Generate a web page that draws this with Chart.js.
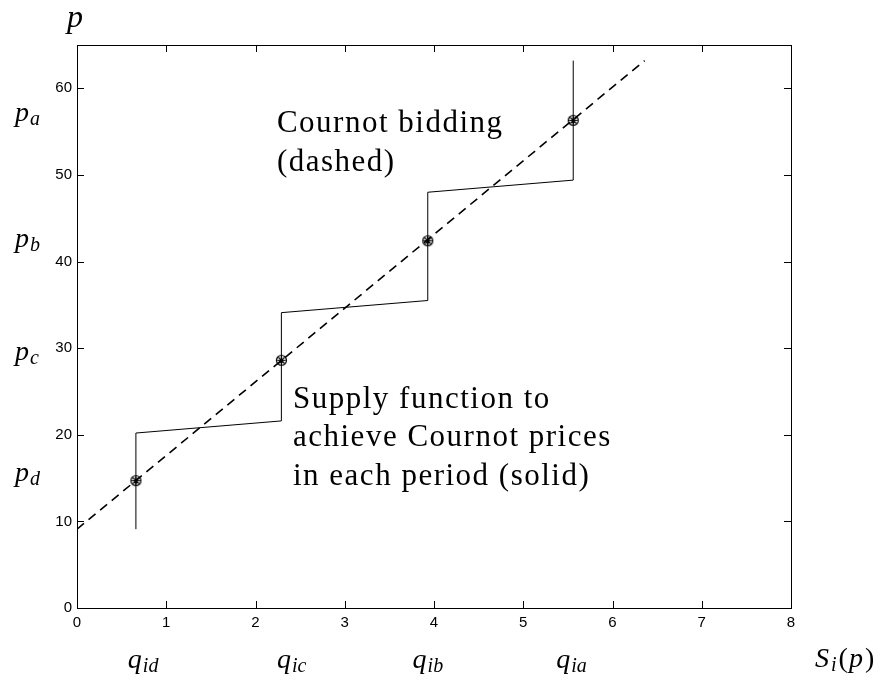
<!DOCTYPE html>
<html>
<head>
<meta charset="utf-8">
<script src="https://cdn.jsdelivr.net/npm/chart.js@4.4.1/dist/chart.umd.min.js"></script>
<style>
  html, body { margin: 0; padding: 0; background: #fff; }
  #wrap { width: 886px; height: 683px; }
</style>
</head>
<body>
<div id="wrap"><canvas id="c" width="886" height="683"></canvas></div>
<script>
// Cournot bidding line (dashed) – end points
const cournotLineQ = [0, 6.36];
const cournotLineP = [9.1, 63.2];

// Cournot price/quantity pairs in each period (marked points)
const cournotQ = [0.66, 2.29, 3.93, 5.56];
const cournotP = [14.7, 28.6, 42.4, 56.3];

// Step supply function achieving Cournot prices (solid)
const supplyQ = [0.66, 0.66, 2.29, 2.29, 3.93, 3.93, 5.56, 5.56];
const supplyP = [9.1, 20.2, 21.6, 34.1, 35.5, 48.0, 49.4, 63.2];

// Axis ticks
const xTicks = [0, 1, 2, 3, 4, 5, 6, 7, 8];
const yTicks = [0, 10, 20, 30, 40, 50, 60];

// Price and quantity symbols along the axes
const priceSubs = ['a', 'b', 'c', 'd'];
const priceLabelP = [56.6, 42.0, 29.0, 15.0];
const quantitySubs = ['id', 'ic', 'ib', 'ia'];
const quantityLabelQ = [0.57, 2.24, 3.76, 5.37];

// Annotations
const cournotNote = ['Cournot bidding', '(dashed)'];
const supplyNote = ['Supply function to', 'achieve Cournot prices', 'in each period (solid)'];

const SERIF = '"Liberation Serif", "DejaVu Serif", serif';
const SANS = '"Liberation Sans", Arial, sans-serif';

// circle + asterisk marker
function makeMarker() {
  const m = document.createElement('canvas');
  m.width = 13; m.height = 13;
  const g = m.getContext('2d');
  g.strokeStyle = '#000';
  g.lineWidth = 1.2;
  const c = 6.5, r = 5, s = 4.3, d = s * Math.SQRT1_2;
  g.beginPath(); g.arc(c, c, r, 0, Math.PI * 2); g.stroke();
  g.beginPath();
  g.moveTo(c - s, c); g.lineTo(c + s, c);
  g.moveTo(c, c - s); g.lineTo(c, c + s);
  g.moveTo(c - d, c - d); g.lineTo(c + d, c + d);
  g.moveTo(c - d, c + d); g.lineTo(c + d, c - d);
  g.stroke();
  return m;
}

const zip = (xs, ys) => xs.map((x, i) => ({ x, y: ys[i] }));

function subLabel(ctx, x, y, main, sub, size, subSize, drop) {
  ctx.font = `italic ${size}px ${SERIF}`;
  ctx.fillText(main, x, y);
  const w = ctx.measureText(main).width;
  ctx.font = `italic ${subSize}px ${SERIF}`;
  ctx.fillText(sub, x + w + 1, y + drop);
  return x + w + 1 + ctx.measureText(sub).width;
}

const framePlugin = {
  id: 'frameAndText',
  afterDraw(chart) {
    const { ctx, chartArea: a, scales } = chart;
    const xs = scales.x, ys = scales.y;
    ctx.save();
    ctx.strokeStyle = '#000';
    ctx.lineWidth = 1;
    // frame
    ctx.strokeRect(a.left + 0.5, a.top + 0.5, a.right - a.left, a.bottom - a.top);
    // inward ticks on all four sides
    const tl = 7;
    ctx.beginPath();
    xTicks.forEach(v => {
      const px = Math.round(xs.getPixelForValue(v)) + 0.5;
      ctx.moveTo(px, a.bottom); ctx.lineTo(px, a.bottom - tl);
      ctx.moveTo(px, a.top); ctx.lineTo(px, a.top + tl);
    });
    yTicks.forEach(v => {
      const py = Math.round(ys.getPixelForValue(v)) + 0.5;
      ctx.moveTo(a.left, py); ctx.lineTo(a.left + tl, py);
      ctx.moveTo(a.right, py); ctx.lineTo(a.right - tl, py);
    });
    ctx.stroke();

    ctx.fillStyle = '#000';
    ctx.textAlign = 'left';
    ctx.textBaseline = 'alphabetic';

    // axis symbols
    ctx.font = `italic 32px ${SERIF}`;
    ctx.fillText('p', 67, 27);

    priceSubs.forEach((s, i) => {
      const py = ys.getPixelForValue(priceLabelP[i]) + 3;
      subLabel(ctx, 15, py, 'p', s, 28, 20, 4);
    });
    quantitySubs.forEach((s, i) => {
      const px = xs.getPixelForValue(quantityLabelQ[i]);
      subLabel(ctx, px, 668, 'q', s, 28, 20, 4);
    });
    ctx.letterSpacing = '1px';
    let sx = subLabel(ctx, 815, 667, 'S', 'i', 28, 20, 4);
    ctx.font = `28px ${SERIF}`;
    ctx.fillText('(', sx + 1, 667);
    sx += 1 + ctx.measureText('(').width;
    ctx.font = `italic 28px ${SERIF}`;
    ctx.fillText('p', sx, 667);
    sx += ctx.measureText('p').width + 1;
    ctx.font = `28px ${SERIF}`;
    ctx.fillText(')', sx, 667);

    // annotations
    ctx.font = `31px ${SERIF}`;
    ctx.letterSpacing = '1.5px';
    const lh = 38.5;
    cournotNote.forEach((t, i) => {
      ctx.fillText(t, xs.getPixelForValue(2.24), ys.getPixelForValue(54.9) + i * lh);
    });
    supplyNote.forEach((t, i) => {
      ctx.fillText(t, xs.getPixelForValue(2.42), ys.getPixelForValue(23.1) + i * lh);
    });
    ctx.restore();
  }
};

new Chart(document.getElementById('c'), {
  type: 'scatter',
  data: {
    datasets: [
      {
        label: 'Cournot bidding',
        data: zip(cournotLineQ, cournotLineP),
        showLine: true,
        borderColor: '#000',
        borderWidth: 1.6,
        borderDash: [9, 6],
        pointRadius: 0
      },
      {
        label: 'Supply function',
        data: zip(supplyQ, supplyP),
        showLine: true,
        borderColor: '#000',
        borderWidth: 1,
        pointRadius: 0
      },
      {
        label: 'Cournot prices',
        data: zip(cournotQ, cournotP),
        showLine: false,
        pointStyle: makeMarker(),
        pointRadius: 6
      }
    ]
  },
  options: {
    responsive: false,
    animation: false,
    devicePixelRatio: 1,
    layout: { padding: { left: 0, top: 45, right: 95, bottom: 0 } },
    plugins: { legend: { display: false }, tooltip: { enabled: false } },
    scales: {
      x: {
        type: 'linear',
        min: 0, max: 8,
        grid: { display: false, drawTicks: false },
        border: { display: false },
        afterBuildTicks: s => { s.ticks = xTicks.map(v => ({ value: v })); },
        afterFit: s => { s.height = 75; },
        ticks: { color: '#000', font: { family: SANS, size: 15 }, padding: 6, maxRotation: 0 }
      },
      y: {
        type: 'linear',
        min: 0, max: 65,
        grid: { display: false, drawTicks: false },
        border: { display: false },
        afterBuildTicks: s => { s.ticks = yTicks.map(v => ({ value: v })); },
        afterFit: s => { s.width = 77; },
        ticks: { color: '#000', font: { family: SANS, size: 15 }, padding: 5 }
      }
    }
  },
  plugins: [framePlugin]
});
</script>
</body>
</html>
